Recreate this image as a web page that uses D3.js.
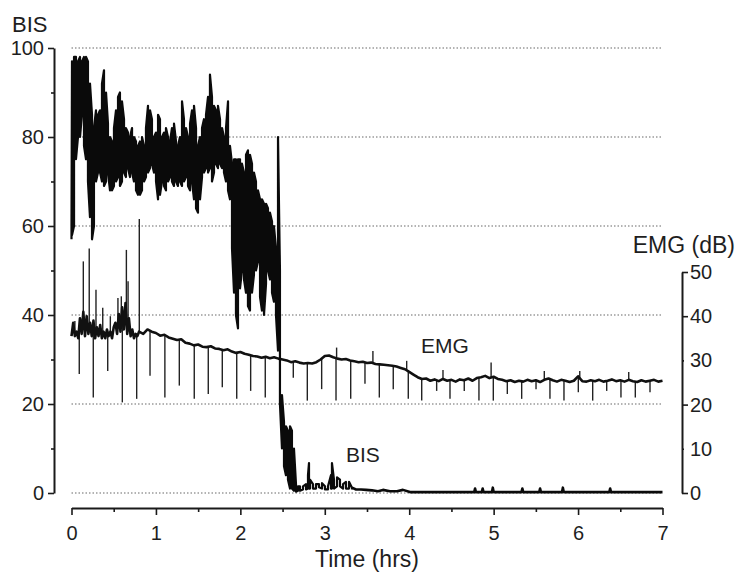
<!DOCTYPE html>
<html><head><meta charset="utf-8">
<script src="https://cdn.jsdelivr.net/npm/d3@7"></script>
<style>
body{margin:0;background:#fff}
svg text{font-family:"Liberation Sans",Arial,Helvetica,sans-serif;fill:#1e1e1e}
</style>
</head><body>
<svg id="chart" width="736" height="574"></svg>
<script>
// ---- BIS trace, dense part: time (hrs) with min / max envelope of the signal ----
const bisT = [0,0.006,0.030,0.053,0.077,0.101,0.124,0.148,0.172,0.195,0.219,0.243,0.266,0.290,0.314,0.338,0.361,0.385,0.409,0.432,0.456,0.480,0.503,0.527,0.551,0.574,0.598,0.622,0.645,0.669,0.693,0.717,0.740,0.764,0.788,0.811,0.835,0.859,0.882,0.906,0.930,0.953,0.977,1.001,1.025,1.048,1.072,1.096,1.119,1.143,1.167,1.190,1.214,1.238,1.261,1.285,1.309,1.332,1.356,1.380,1.404,1.427,1.451,1.475,1.498,1.522,1.546,1.569,1.593,1.617,1.640,1.664,1.688,1.711,1.735,1.759,1.783,1.806,1.830,1.854,1.877,1.901,1.925,1.948,1.972,1.996,2.019,2.043,2.067,2.090,2.114,2.138,2.161,2.185,2.209,2.233,2.256,2.280,2.304,2.327,2.351,2.375,2.398,2.422,2.446,2.469,2.493,2.517,2.540,2.564,2.588,2.611,2.635,2.659,
  2.683,2.706,2.742,2.778,2.801,2.813,2.825,2.860,2.896,2.931,2.967,3.002,3.038,3.073,3.085,3.109,3.145,3.180,3.216,3.251,3.287,3.322];
const bisLo = [57,58,60,75,80,80,85,78,75,70,62,57,60,70,72,72,70,69,70,72,68,68,69,70,71,69,70,72,71,73,71,72,70,68,67,67,68,70,71,72,73,74,72,70,66,67,70,69,68,70,71,70,69,70,69,70,69,70,71,69,68,70,66,64,63,66,71,72,73,72,73,70,72,74,73,74,73,72,70,68,66,55,45,40,37,46,50,48,45,42,41,45,49,50,52,44,41,40,47,50,48,45,43,40,32,20,10,6,4,3,1,1,0.5,0.3,
  0.5,0.5,0.8,0.8,1,1,1,1,1,1.3,1,0.8,0.8,1,1,1,1.5,1.5,1,1,1,0.8];
const bisHi = [60,97,98,98,97,98,97,98,98,97,92,85,82,86,85,86,92,95,90,83,80,79,82,86,89,90,88,84,82,81,80,82,80,79,78,79,80,78,82,87,86,84,80,81,85,84,80,81,82,80,79,82,83,79,78,80,88,84,82,80,83,86,87,82,78,80,82,84,85,89,94,89,87,86,87,84,82,80,82,88,78,74,75,75,75,75,74,72,76,77,76,74,72,70,68,66,66,65,65,64,63,61,60,55,80,50,22,16,15,14,15,14,10,2,
  1.5,1.5,1.5,2,4,6.7,3,2,2,2,2.2,1.5,1.5,4,6.7,3,3.5,3,2,2.5,2.5,1.2];
// ---- BIS trace, flat tail near zero ----
const bisTailT = [3.322,3.370,3.429,3.488,3.559,3.630,3.689,3.772,3.855,3.926,4.009,4.77,4.78,4.79,4.86,4.87,4.88,4.98,4.99,5.00,5.33,5.34,5.35,5.54,5.55,5.56,5.81,5.82,5.83,6.37,6.38,6.39,7.0];
const bisTailV = [1.2,0.8,0.8,0.7,0.6,0.4,0.7,0.4,0.4,0.7,0.2,0.2,1.0,0.2,0.2,1.0,0.2,0.2,1.2,0.2,0.2,1.0,0.2,0.2,1.0,0.2,0.2,1.2,0.2,0.2,1.0,0.2,0.2];

// ---- EMG trace (dB): baseline level over time ----
const emgT = [0,0.02,0.04,0.06,0.08,0.10,0.12,0.14,0.16,0.18,0.20,0.22,0.24,0.26,0.28,0.30,0.32,0.34,0.36,0.38,0.40,0.42,0.44,0.46,0.48,0.50,0.52,0.54,0.56,0.58,0.60,0.62,0.64,0.66,0.68,0.70,0.72,0.74,0.76,0.78,0.80,0.85,0.90,0.95,1.00,1.05,1.10,1.15,1.20,1.25,1.30,1.35,1.40,1.45,1.50,1.55,1.60,1.65,1.70,1.75,1.80,1.85,1.90,1.95,2.00,2.05,2.10,2.15,2.20,2.25,2.30,2.35,2.40,2.45,2.50,2.55,2.60,2.65,2.70,2.75,2.80,2.85,2.90,2.95,3.00,3.05,3.10,3.15,3.20,3.25,3.30,3.35,3.40,3.45,3.50,3.55,3.60,3.65,3.70,3.75,3.80,3.85,3.90,3.95,4.00,4.05,4.10,4.15,4.20,4.25,4.30,4.35,4.40,4.45,4.50,4.55,4.60,4.65,4.70,4.75,4.80,4.85,4.90,4.95,5.00,5.05,5.10,5.15,5.20,5.25,5.30,5.35,5.40,5.45,5.50,5.55,5.60,5.65,5.70,5.75,5.80,5.85,5.90,5.95,6.00,6.05,6.10,6.15,6.20,6.25,6.30,6.35,6.40,6.45,6.50,6.55,6.60,6.65,6.70,6.75,6.80,6.85,6.90,6.95,7.00];
const emgV = [35.5,38.5,35.5,36.5,35.0,39.5,36.0,41.0,35.5,40.0,36.0,38.5,35.5,39.0,35.0,37.5,35.5,38.0,35.0,36.5,35.0,37.0,35.5,36.5,35.0,37.5,38.5,36.0,40.5,36.5,42.0,37.0,43.0,36.0,39.5,35.5,37.0,35.0,36.0,35.5,36.5,36.0,37.0,36.5,36.2,35.6,35.8,35.2,34.9,34.6,34.8,34.0,33.8,33.4,33.6,33.1,33.0,33.2,32.7,32.6,32.3,32.5,32.0,31.7,31.9,31.5,31.3,31.0,30.9,30.6,30.8,30.5,30.7,30.4,30.2,30.0,29.6,29.8,29.5,29.3,29.4,29.3,29.6,30.2,31.0,31.1,30.7,30.4,30.2,30.3,30.0,29.8,29.6,29.7,29.4,29.5,29.2,29.1,29.0,28.9,28.8,28.6,28.3,28.0,27.4,26.8,26.2,25.8,25.9,25.4,25.7,25.3,25.8,25.4,25.6,25.2,25.7,25.5,25.9,25.4,26.0,26.2,26.5,26.0,26.3,25.8,25.6,25.3,25.5,25.1,25.4,25.2,25.6,25.3,25.5,25.1,25.6,25.9,25.5,25.2,25.6,25.4,25.1,25.4,26.4,25.3,25.2,25.5,25.3,25.6,25.2,25.4,25.7,25.3,25.5,25.2,25.6,25.3,25.1,25.5,25.2,25.4,25.6,25.2,25.4];

// ---- EMG spikes (time, peak value in dB) ----
const spikeT = [0.092,0.258,0.429,0.602,0.772,0.930,1.106,1.277,1.454,1.620,1.786,1.957,2.122,2.295,2.470,2.627,2.793,2.963,3.133,3.307,3.476,3.646,3.811,3.989,4.148,4.325,4.483,4.652,4.826,4.996,5.162,5.332,5.502,5.667,5.833,6.003,6.173,6.339,6.508,6.678,6.852,
  0.04,0.14,0.21,0.29,0.37,0.46,0.55,0.59,0.65,0.67,0.803,3.14,3.57,3.97,4.97,6.02,4.40,5.60,6.60];
const spikeV = [26.9,21.6,27.6,20.5,21.3,26.5,21.6,24.3,21.3,22.4,23.9,21.3,23.1,21.6,22.0,26.1,20.9,23.5,20.9,21.3,24.7,21.6,23.5,21.3,20.9,23.1,21.3,23.1,20.9,20.9,22.4,21.3,23.5,21.3,20.9,22.8,20.9,23.1,21.6,21.6,22.8,
  38.9,52.4,55.3,46.0,41.9,40.0,44.1,44.5,55.0,47.9,62.0,32.9,32.1,29.9,29.5,27.6,27.8,27.6,27.4];

const bisTicks = [0,10,20,30,40,50,60,70,80,90,100];
const emgTicks = [0,10,20,30,40,50];
const timeTicks = [0,0.5,1,1.5,2,2.5,3,3.5,4,4.5,5,5.5,6,6.5,7];
const gridVals = [0,20,40,60,80,100];

const svg = d3.select("#chart");
const x = d3.scaleLinear().domain([0,7]).range([71.5,662.5]);
const y = d3.scaleLinear().domain([0,100]).range([493,48]);
const yE = d3.scaleLinear().domain([0,50]).range([493,272]);

// dotted grid
svg.append("g").selectAll("line").data(gridVals).join("line")
  .attr("x1", x(0)).attr("x2", x(7)).attr("y1", d=>y(d)).attr("y2", d=>y(d))
  .attr("stroke","#9a9a9a").attr("stroke-width",1.3).attr("stroke-dasharray","1.5,2");

// EMG spikes
const baseAt = t => {
  const i = d3.bisector(d=>d).right(emgT, t);
  if (i<=0) return emgV[0];
  if (i>=emgT.length) return emgV[emgV.length-1];
  const f = (t-emgT[i-1])/(emgT[i]-emgT[i-1]);
  return emgV[i-1] + f*(emgV[i]-emgV[i-1]);
};
svg.append("g").selectAll("line").data(spikeT.map((t,i)=>[t,spikeV[i]])).join("line")
  .attr("x1", d=>x(d[0])).attr("x2", d=>x(d[0]))
  .attr("y1", d=>yE(baseAt(d[0]))).attr("y2", d=>yE(d[1]))
  .attr("stroke","#222").attr("stroke-width",1.4);

// EMG baseline
svg.append("path").datum(emgT.map((t,i)=>[t,emgV[i]]))
  .attr("fill","none").attr("stroke","#111").attr("stroke-width",2.6).attr("stroke-linejoin","round")
  .attr("d", d3.line().x(d=>x(d[0])).y(d=>yE(d[1])));

// BIS zig-zag band
const pts = [];
bisT.forEach((t,i)=>{
  if (i%2===0) { pts.push([t,bisLo[i]],[t,bisHi[i]]); }
  else { pts.push([t,bisHi[i]],[t,bisLo[i]]); }
});
svg.append("path").datum(pts)
  .attr("fill","none").attr("stroke","#0a0a0a").attr("stroke-width",2.2).attr("stroke-linejoin","round")
  .attr("d", d3.line().x(d=>x(d[0])).y(d=>y(d[1])));
// BIS tail
svg.append("path").datum(bisTailT.map((t,i)=>[t,bisTailV[i]]))
  .attr("fill","none").attr("stroke","#0a0a0a").attr("stroke-width",2.6).attr("stroke-linejoin","round")
  .attr("d", d3.line().x(d=>x(d[0])).y(d=>y(d[1])));

// Axes
const fs = "20px";
const left = svg.append("g").attr("transform","translate(54,0)")
  .call(d3.axisLeft(y).tickValues(bisTicks).tickSize(6).tickSizeOuter(0).tickPadding(4)
    .tickFormat(d=> d%20===0 ? d : ""));
left.selectAll(".tick line").attr("x2", d=> d%20===0 ? -6 : -3);
const bottom = svg.append("g").attr("transform","translate(0,508)")
  .call(d3.axisBottom(x).tickValues(timeTicks).tickSize(7).tickSizeOuter(0).tickPadding(11)
    .tickFormat(d=> Number.isInteger(d) ? d : ""));
bottom.selectAll(".tick line").attr("y2", d=> Number.isInteger(d) ? 7 : 4);
const right = svg.append("g").attr("transform","translate(682,0)")
  .call(d3.axisRight(yE).tickValues(emgTicks).tickSize(6).tickSizeOuter(0).tickPadding(2));
right.selectAll(".tick line").attr("x2", d=> (d===10||d===30) ? 2 : 6);
[left,bottom,right].forEach(g=>{
  g.select(".domain").attr("stroke","#1a1a1a").attr("stroke-width",2);
  g.selectAll(".tick line").attr("stroke","#1a1a1a").attr("stroke-width",1.6);
  g.selectAll("text").attr("font-size",fs).attr("font-family",null).attr("fill","#1e1e1e");
  g.attr("font-family",null).attr("font-size",null);
});

// Titles & labels
svg.append("text").attr("x",12).attr("y",32).attr("font-size","22px").text("BIS");
svg.append("text").attr("x",735).attr("y",253).attr("text-anchor","end").attr("font-size","23px").text("EMG (dB)");
svg.append("text").attr("x",367).attr("y",567).attr("text-anchor","middle").attr("font-size","23px").text("Time (hrs)");
svg.append("text").attr("x",421).attr("y",353).attr("font-size","21px").text("EMG");
svg.append("text").attr("x",346).attr("y",462).attr("font-size","21px").text("BIS");
</script>
</body></html>
